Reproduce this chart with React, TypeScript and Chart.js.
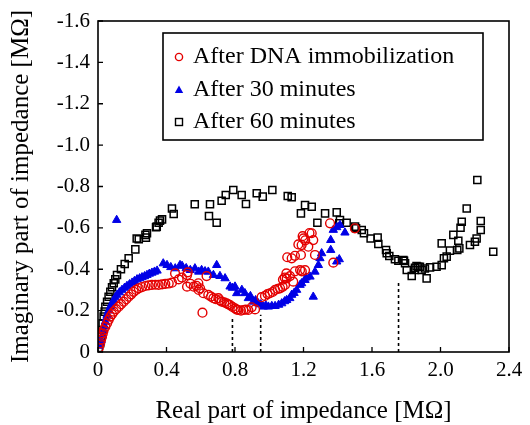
import { useEffect, useRef } from 'react';
import { Chart, registerables } from 'chart.js';

Chart.register(...registerables);

// ---- Data (Z' [MΩ], Z'' [MΩ]) ----
const seriesNames = ['After DNA immobilization', 'After 30 minutes', 'After 60 minutes'];
const xTickValues = [0, 0.4, 0.8, 1.2, 1.6, 2.0, 2.4];
const yTickValues = [0, -0.2, -0.4, -0.6, -0.8, -1.0, -1.2, -1.4, -1.6];

const dnaPoints: [number, number][] = [
  [0.005, -0.02], [0.013, -0.042], [0.018, -0.06], [0.023, -0.074], [0.028, -0.09], [0.033, -0.106],
  [0.043, -0.122], [0.053, -0.139], [0.062, -0.155], [0.072, -0.171], [0.082, -0.183], [0.092, -0.195],
  [0.106, -0.207], [0.121, -0.219], [0.135, -0.231], [0.15, -0.243], [0.165, -0.255], [0.179, -0.267],
  [0.194, -0.279], [0.208, -0.291], [0.223, -0.3], [0.238, -0.308], [0.257, -0.314], [0.277, -0.319],
  [0.296, -0.322], [0.315, -0.324], [0.335, -0.325], [0.354, -0.324], [0.374, -0.327], [0.393, -0.329],
  [0.413, -0.331], [0.432, -0.335], [0.45, -0.38], [0.471, -0.351], [0.49, -0.36], [0.52, -0.372],
  [0.524, -0.385], [0.52, -0.316], [0.54, -0.33], [0.559, -0.316], [0.575, -0.32], [0.586, -0.332],
  [0.588, -0.3], [0.596, -0.308], [0.61, -0.19], [0.615, -0.284], [0.634, -0.367], [0.644, -0.276],
  [0.66, -0.268], [0.674, -0.26], [0.688, -0.255], [0.703, -0.26], [0.712, -0.25], [0.722, -0.243],
  [0.737, -0.24], [0.751, -0.235], [0.761, -0.23], [0.771, -0.227], [0.785, -0.218], [0.8, -0.211],
  [0.81, -0.205], [0.819, -0.203], [0.835, -0.2], [0.849, -0.203], [0.863, -0.205], [0.878, -0.203],
  [0.897, -0.216], [0.917, -0.206], [0.955, -0.265], [0.975, -0.271], [0.99, -0.28], [1.004, -0.284],
  [1.02, -0.29], [1.034, -0.3], [1.05, -0.305], [1.063, -0.308], [1.078, -0.315], [1.092, -0.324],
  [1.08, -0.35], [1.09, -0.36], [1.1, -0.38], [1.102, -0.356], [1.121, -0.367], [1.14, -0.34],
  [1.105, -0.458], [1.131, -0.453], [1.15, -0.465], [1.15, -0.39], [1.18, -0.396], [1.19, -0.39],
  [1.209, -0.396], [1.185, -0.469], [1.17, -0.52], [1.189, -0.517], [1.228, -0.509], [1.2, -0.549],
  [1.195, -0.56], [1.21, -0.54], [1.235, -0.575], [1.248, -0.574], [1.257, -0.541], [1.267, -0.469],
  [1.355, -0.622], [1.374, -0.432], [1.5, -0.598],
];

const min30Points: [number, number][] = [
  [0.005, -0.03], [0.012, -0.045], [0.019, -0.058], [0.026, -0.08], [0.033, -0.106], [0.038, -0.125],
  [0.043, -0.147], [0.048, -0.163], [0.053, -0.179], [0.062, -0.2], [0.072, -0.219], [0.082, -0.235],
  [0.092, -0.251], [0.101, -0.264], [0.111, -0.276], [0.125, -0.288], [0.14, -0.3], [0.155, -0.31],
  [0.169, -0.319], [0.184, -0.327], [0.199, -0.335], [0.213, -0.343], [0.228, -0.351], [0.243, -0.356],
  [0.257, -0.361], [0.272, -0.366], [0.286, -0.372], [0.3, -0.378], [0.315, -0.383], [0.33, -0.388],
  [0.345, -0.393], [0.381, -0.428], [0.403, -0.42], [0.425, -0.41], [0.451, -0.404], [0.479, -0.42],
  [0.491, -0.416], [0.515, -0.405], [0.539, -0.396], [0.566, -0.404], [0.588, -0.388], [0.605, -0.396],
  [0.625, -0.39], [0.644, -0.388], [0.674, -0.372], [0.693, -0.42], [0.712, -0.367], [0.742, -0.356],
  [0.771, -0.316], [0.785, -0.31], [0.8, -0.316], [0.81, -0.284], [0.84, -0.3], [0.858, -0.284],
  [0.878, -0.26], [0.89, -0.27], [0.907, -0.243], [0.92, -0.25], [0.936, -0.235], [0.95, -0.23],
  [0.965, -0.219], [0.98, -0.225], [0.995, -0.219], [1.015, -0.222], [1.034, -0.222], [1.055, -0.228],
  [1.073, -0.235], [1.09, -0.245], [1.102, -0.251], [1.12, -0.26], [1.131, -0.276], [1.145, -0.285],
  [1.16, -0.3], [1.18, -0.324], [1.189, -0.332], [1.209, -0.348], [1.215, -0.36], [1.238, -0.364],
  [1.257, -0.267], [1.267, -0.388], [1.287, -0.42], [1.296, -0.453], [1.306, -0.477], [1.359, -0.493],
  [1.359, -0.541], [1.374, -0.59], [1.394, -0.603], [1.394, -0.437], [1.409, -0.448], [1.413, -0.614],
  [1.442, -0.577], [0.109, -0.638],
];

const min60Points: [number, number][] = [
  [0.005, -0.02], [0.013, -0.042], [0.019, -0.074], [0.023, -0.106], [0.027, -0.139], [0.033, -0.171],
  [0.039, -0.195], [0.043, -0.219], [0.053, -0.243], [0.062, -0.267], [0.072, -0.291], [0.082, -0.313],
  [0.092, -0.332], [0.101, -0.351], [0.111, -0.372], [0.134, -0.4], [0.156, -0.425], [0.179, -0.453],
  [0.218, -0.496], [0.226, -0.549], [0.238, -0.545], [0.277, -0.566], [0.28, -0.553], [0.286, -0.574],
  [0.339, -0.603], [0.343, -0.606], [0.354, -0.625], [0.362, -0.635], [0.374, -0.641], [0.432, -0.694],
  [0.442, -0.667], [0.565, -0.714], [0.648, -0.657], [0.654, -0.714], [0.693, -0.625], [0.722, -0.731],
  [0.746, -0.759], [0.79, -0.783], [0.839, -0.759], [0.864, -0.715], [0.927, -0.767], [0.962, -0.751],
  [1.018, -0.783], [1.108, -0.754], [1.131, -0.748], [1.185, -0.67], [1.209, -0.71], [1.248, -0.702],
  [1.281, -0.625], [1.326, -0.67], [1.394, -0.675], [1.413, -0.638], [1.409, -0.622], [1.452, -0.625],
  [1.501, -0.606], [1.507, -0.598], [1.54, -0.59], [1.553, -0.574], [1.592, -0.549], [1.633, -0.553],
  [1.637, -0.522], [1.682, -0.493], [1.686, -0.477], [1.701, -0.464], [1.734, -0.448], [1.754, -0.441],
  [1.787, -0.441], [1.783, -0.445], [1.793, -0.429], [1.803, -0.396], [1.832, -0.367], [1.851, -0.407],
  [1.851, -0.396], [1.86, -0.416], [1.87, -0.412], [1.88, -0.412], [1.89, -0.396], [1.909, -0.404],
  [1.919, -0.356], [1.939, -0.409], [1.977, -0.412], [2.007, -0.42], [2.02, -0.453], [2.036, -0.461],
  [2.007, -0.525], [2.055, -0.49], [2.075, -0.566], [2.098, -0.493], [2.104, -0.538], [2.11, -0.501],
  [2.117, -0.601], [2.124, -0.63], [2.153, -0.694], [2.172, -0.517], [2.201, -0.533], [2.211, -0.549],
  [2.215, -0.831], [2.235, -0.633], [2.235, -0.59], [2.308, -0.485],
];

// dashed guide lines: Z' position and top (Z'')
const guideX = [0.785, 0.95, 1.755];
const guideTop = [-0.165, -0.18, -0.34];

const RED = 'rgb(228,0,0)';
const BLUE = 'rgb(0,0,230)';
const BLACK = '#000';
const FONT = "'Liberation Serif', 'Times New Roman', serif";

const fmt = (v: number) => (v === 0 ? '0' : v.toFixed(1));

const framePlugin = {
  id: 'frameAndLegend',
  afterDraw(chart: any) {
    const { ctx, chartArea: ca, scales } = chart;
    ctx.save();
    ctx.strokeStyle = BLACK;
    ctx.lineWidth = 1.6;
    ctx.strokeRect(ca.left, ca.top, ca.right - ca.left, ca.bottom - ca.top);
    ctx.lineWidth = 1.3;
    ctx.beginPath();
    xTickValues.forEach((v) => {
      const px = scales.x.getPixelForValue(v);
      ctx.moveTo(px, ca.bottom);
      ctx.lineTo(px, ca.bottom - 5);
    });
    yTickValues.forEach((v) => {
      const py = scales.y.getPixelForValue(v);
      ctx.moveTo(ca.left, py);
      ctx.lineTo(ca.left + 5, py);
    });
    ctx.stroke();

    // legend
    const lx = ca.left + 65;
    const ly = ca.top + 12;
    const lw = 320;
    const lh = 107;
    ctx.fillStyle = '#fff';
    ctx.fillRect(lx, ly, lw, lh);
    ctx.lineWidth = 1.6;
    ctx.strokeStyle = BLACK;
    ctx.strokeRect(lx, ly, lw, lh);
    const rows = [ly + 24, ly + 57, ly + 89];
    const mx = lx + 16;
    // circle
    ctx.lineWidth = 1.4;
    ctx.strokeStyle = RED;
    ctx.beginPath();
    ctx.arc(mx, rows[0], 3.6, 0, Math.PI * 2);
    ctx.stroke();
    // triangle
    ctx.fillStyle = BLUE;
    ctx.beginPath();
    ctx.moveTo(mx, rows[1] - 4.5);
    ctx.lineTo(mx + 4.2, rows[1] + 3);
    ctx.lineTo(mx - 4.2, rows[1] + 3);
    ctx.closePath();
    ctx.fill();
    // square
    ctx.strokeStyle = BLACK;
    ctx.lineWidth = 1.4;
    ctx.strokeRect(mx - 3.5, rows[2] - 3.5, 7, 7);
    ctx.fillStyle = BLACK;
    ctx.font = `24px ${FONT}`;
    ctx.textBaseline = 'middle';
    ctx.textAlign = 'left';
    seriesNames.forEach((name, i) => ctx.fillText(name, lx + 30, rows[i]));
    ctx.restore();
  },
};

export default function App() {
  const ref = useRef<HTMLCanvasElement>(null);
  useEffect(() => {
    if (!ref.current) return;
    const toXY = (p: [number, number][]) => p.map(([x, y]) => ({ x, y }));
    const guides = guideX.map((gx, i) => ({
      type: 'line' as const,
      data: [{ x: gx, y: 0 }, { x: gx, y: guideTop[i] }],
      borderColor: BLACK,
      borderWidth: 1.6,
      borderDash: [3, 3],
      pointRadius: 0,
      showLine: true,
      order: 10,
    }));
    const chart = new Chart(ref.current, {
      type: 'scatter',
      data: {
        datasets: [
          {
            label: seriesNames[0],
            data: toXY(dnaPoints),
            pointStyle: 'circle',
            pointRadius: 4.4,
            borderColor: RED,
            backgroundColor: 'rgba(0,0,0,0)',
            borderWidth: 1.4,
            order: 1,
          },
          {
            label: seriesNames[1],
            data: toXY(min30Points),
            pointStyle: 'triangle',
            pointRadius: 4.8,
            borderColor: BLUE,
            backgroundColor: BLUE,
            borderWidth: 1,
            order: 2,
          },
          {
            label: seriesNames[2],
            data: toXY(min60Points),
            pointStyle: 'rect',
            pointRadius: 5,
            borderColor: BLACK,
            backgroundColor: 'rgba(0,0,0,0)',
            borderWidth: 1.5,
            order: 3,
          },
          ...guides,
        ] as any,
      },
      options: {
        animation: false,
        responsive: false,
        events: [],
        layout: { padding: { left: 0, right: 21, top: 21, bottom: 0 } },
        plugins: { legend: { display: false }, tooltip: { enabled: false } },
        scales: {
          x: {
            type: 'linear',
            min: 0,
            max: 2.4,
            afterFit: (s: any) => { s.height = 73; },
            afterBuildTicks: (s: any) => { s.ticks = xTickValues.map((v) => ({ value: v })); },
            grid: { display: false, drawTicks: false },
            border: { display: false },
            ticks: { padding: 6, color: BLACK, font: { family: FONT, size: 21 }, callback: (v: any) => fmt(Number(v)), maxRotation: 0 },
            title: { display: true, text: 'Real part of impedance [MΩ]', color: BLACK, font: { family: FONT, size: 25, lineHeight: 1 }, padding: { top: 0, bottom: 1 } },
          },
          y: {
            type: 'linear',
            min: -1.6,
            max: 0,
            reverse: true,
            afterFit: (s: any) => { s.width = 98; },
            afterBuildTicks: (s: any) => { s.ticks = yTickValues.map((v) => ({ value: v })); },
            grid: { display: false, drawTicks: false },
            border: { display: false },
            ticks: { padding: 8, color: BLACK, font: { family: FONT, size: 21 }, callback: (v: any) => fmt(Number(v)) },
            title: { display: true, text: 'Imaginary part of impedance [MΩ]', color: BLACK, font: { family: FONT, size: 25, lineHeight: 1 }, padding: { top: 8.5, bottom: 0 } },
          },
        },
      },
      plugins: [framePlugin],
    });
    return () => chart.destroy();
  }, []);
  return (
    <div style={{ position: 'fixed', left: 0, top: 0, width: 530, height: 425, background: '#fff' }}>
      <canvas ref={ref} width={530} height={425} style={{ display: 'block' }} />
    </div>
  );
}
